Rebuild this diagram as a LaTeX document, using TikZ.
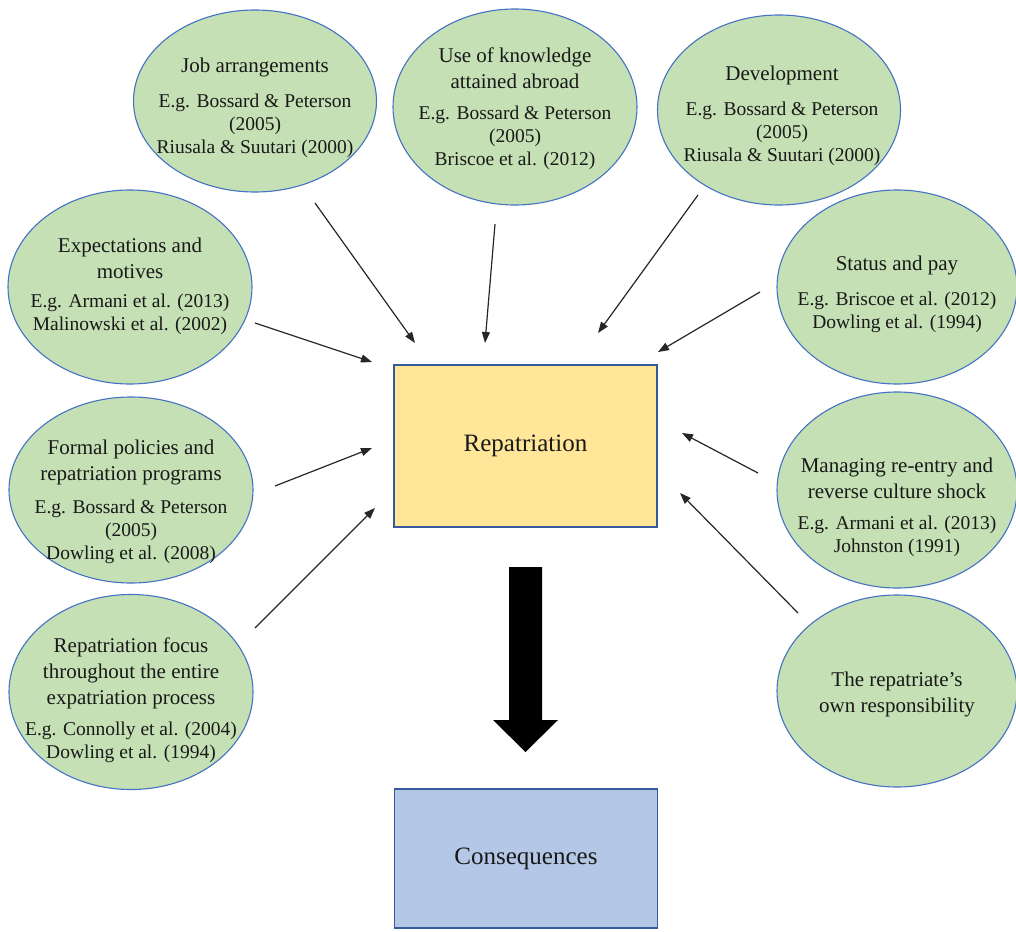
\documentclass[tikz,border=0pt]{standalone}
\usepackage{fontspec}
\setmainfont{Liberation Serif}
\usetikzlibrary{arrows.meta,shapes.geometric}
\definecolor{bubgreen}{HTML}{C5E0B4}
\definecolor{edgeblue}{HTML}{4472C4}
\definecolor{repyellow}{HTML}{FFE699}
\definecolor{conblue}{HTML}{B4C7E7}
\newcommand{\bubtitle}{\fontsize{21}{26}\selectfont}
\newcommand{\bubcite}{\fontsize{19.5}{23}\selectfont}
\begin{document}
\begin{tikzpicture}[x=1pt,y=-1pt,
bubble/.style={ellipse,draw=edgeblue,line width=1.1pt,fill=bubgreen,inner sep=0pt,minimum width=243,minimum height=190},
bubtext/.style={align=center,inner sep=0pt,text=black!90,font=\bubcite},
block/.style={draw=edgeblue!80!black,line width=1.3pt,minimum width=263,minimum height=162,inner sep=0pt,font=\fontsize{25}{30}\selectfont,text=black!90},
link/.style={-{Triangle[length=11pt,width=8pt]},line width=1.2pt,black!85}
]
\useasboundingbox (0,0) rectangle (1016,931);
% factor bubbles
\node[bubble,minimum height=182] (job) at (255,101) {};
\node[bubtext] (job-t) at (255,108) {\bubtitle Job arrangements\\[12pt]E.g. Bossard \& Peterson\\(2005)\\Riusala \& Suutari (2000)};
\node[bubble,minimum width=244,minimum height=196] (know) at (515,107) {};
\node[bubtext] (know-t) at (515,109) {\bubtitle Use of knowledge\\[3pt]\bubtitle attained abroad\\[8pt]E.g. Bossard \& Peterson\\(2005)\\Briscoe et al. (2012)};
\node[bubble] (dev) at (779,110) {};
\node[bubtext] (dev-t) at (782,116) {\bubtitle Development\\[12pt]E.g. Bossard \& Peterson\\(2005)\\Riusala \& Suutari (2000)};
\node[bubble,minimum width=244,minimum height=194] (expect) at (130,287) {};
\node[bubtext] (expect-t) at (130,286) {\bubtitle Expectations and\\[3pt]\bubtitle motives\\[6pt]E.g. Armani et al. (2013)\\Malinowski et al. (2002)};
\node[bubble,minimum width=240,minimum height=194] (status) at (897,287) {};
\node[bubtext] (status-t) at (897,294) {\bubtitle Status and pay\\[12pt]E.g. Briscoe et al. (2012)\\Dowling et al. (1994)};
\node[bubble,minimum width=244,minimum height=186] (formal) at (131,490) {};
\node[bubtext] (formal-t) at (131,502) {\bubtitle Formal policies and\\[3pt]\bubtitle repatriation programs\\[10pt]E.g. Bossard \& Peterson\\(2005)\\Dowling et al. (2008)};
\node[bubble,minimum width=240,minimum height=196] (reentry) at (897,490) {};
\node[bubtext] (reentry-t) at (897,507) {\bubtitle Managing re-entry and\\[3pt]\bubtitle reverse culture shock\\[8pt]E.g. Armani et al. (2013)\\Johnston (1991)};
\node[bubble,minimum width=244,minimum height=195] (focus) at (131,692) {};
\node[bubtext] (focus-t) at (131,700) {\bubtitle Repatriation focus\\[3pt]\bubtitle throughout the entire\\[3pt]\bubtitle expatriation process\\[8pt]E.g. Connolly et al. (2004)\\Dowling et al. (1994)};
\node[bubble,minimum width=240,minimum height=192] (own) at (897,691) {};
\node[bubtext] (own-t) at (897,694) {\bubtitle The repatriate's\\[3pt]\bubtitle own responsibility};
% centre blocks
\node[block,fill=repyellow] (repat) at (525.5,446) {Repatriation};
\node[block,fill=conblue,minimum height=139] (cons) at (526,858.5) {Consequences};
% arrow ends
\coordinate (job-a) at (315,203);    \coordinate (job-b) at (415,343);
\coordinate (know-a) at (495,224);   \coordinate (know-b) at (485,343);
\coordinate (dev-a) at (698,195);    \coordinate (dev-b) at (598,333);
\coordinate (expect-a) at (255,323); \coordinate (expect-b) at (372,362);
\coordinate (status-a) at (760,292); \coordinate (status-b) at (658,352);
\coordinate (formal-a) at (275,486); \coordinate (formal-b) at (372,448);
\coordinate (reentry-a) at (758,473);\coordinate (reentry-b) at (682,433);
\coordinate (focus-a) at (255,628);  \coordinate (focus-b) at (375,508);
\coordinate (own-a) at (798,613);    \coordinate (own-b) at (680,493);
\draw[link] (job-a) -- (job-b);
\draw[link] (know-a) -- (know-b);
\draw[link] (dev-a) -- (dev-b);
\draw[link] (expect-a) -- (expect-b);
\draw[link] (status-a) -- (status-b);
\draw[link] (formal-a) -- (formal-b);
\draw[link] (reentry-a) -- (reentry-b);
\draw[link] (focus-a) -- (focus-b);
\draw[link] (own-a) -- (own-b);
% block arrow down to consequences
\fill[black] ([xshift=-16.5]repat.south |- 0,567) -- ++(33,0) -- ++(0,153) -- ++(16,0)
  -- (repat.south |- 0,752) -- ++(-32.5,-32) -- ++(16,0) -- cycle;
\end{tikzpicture}
\end{document}
